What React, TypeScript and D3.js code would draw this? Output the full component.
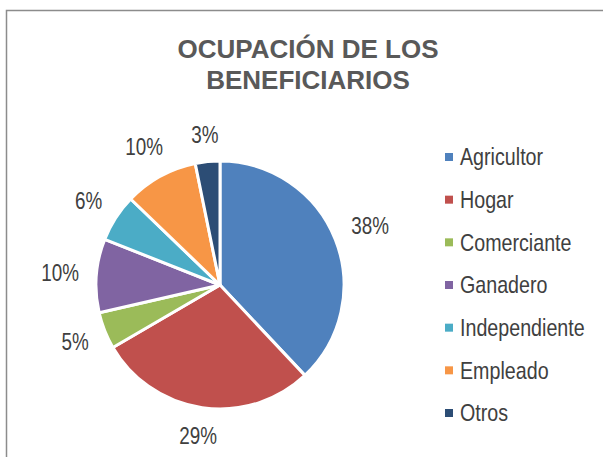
import React from 'react'
import * as d3 from 'd3'

// ocupacion de los beneficiarios (%)
const categories = ['Agricultor', 'Hogar', 'Comerciante', 'Ganadero', 'Independiente', 'Empleado', 'Otros']
const shares = [38, 28.6, 4.8, 9.6, 6.2, 9.6, 3.2]
const colors = ['#4F81BD', '#C0504D', '#9BBB59', '#8064A2', '#4BACC6', '#F79646', '#2C4D75']
const titleLines = ['OCUPACIÓN DE LOS', 'BENEFICIARIOS']

const W = 603
const H = 457
const CX = 220
const CY = 285
const R = 124
const NARROW = 0.82 // fake Arial Narrow by squeezing Liberation Sans

const NarrowText = ({ x, y, size, anchor, children }: any) => (
  <text
    transform={`translate(${x}, ${y}) scale(${NARROW}, 1)`}
    fontFamily="'Liberation Sans', Arial, sans-serif"
    fontSize={size}
    fill="#404040"
    textAnchor={anchor}
    dy="0.35em"
  >
    {children}
  </text>
)

export default function App() {
  const pie = d3.pie<number>().sort(null).value(d => d)
  const arcs = pie(shares)
  const arc = d3.arc<d3.PieArcDatum<number>>().innerRadius(0).outerRadius(R)

  const legendY = d3.scalePoint<string>().domain(categories).range([157, 413])

  const labelSize = 23
  // labels sit just outside the slice, like excel's "outside end"
  const labels = arcs.map(a => {
    const mid = (a.startAngle + a.endAngle) / 2
    const dx = Math.sin(mid)
    const dy = -Math.cos(mid)
    const text = `${Math.round(a.data)}%`
    const w = text.length * labelSize * 0.66 * NARROW
    const h = labelSize * 0.75
    const off = R + 17 + (w / 2) * Math.abs(dx) + (h / 2) * Math.abs(dy)
    return { x: CX + dx * off, y: CY + dy * off, text }
  })

  return (
    <svg width={W} height={H} style={{ position: 'absolute', left: 0, top: 0, background: '#fff' }}>
      {/* chart frame, runs past the right and bottom edges */}
      <rect x={6.5} y={10.5} width={W + 20} height={H + 20} fill="#fff" stroke="#8c8c8c" strokeWidth={1.5} />

      {titleLines.map((t, i) => (
        <text
          key={t}
          x={308}
          y={58 + i * 31}
          textAnchor="middle"
          fontFamily="'Liberation Sans', Arial, sans-serif"
          fontWeight="bold"
          fontSize={26}
          fill="#595959"
        >
          {t}
        </text>
      ))}

      <g transform={`translate(${CX}, ${CY})`}>
        {arcs.map((a, i) => (
          <path key={categories[i]} d={arc(a) || ''} fill={colors[i]} stroke="#fff" strokeWidth={3} strokeLinejoin="round" />
        ))}
      </g>

      {labels.map((l, i) => (
        <NarrowText key={categories[i]} x={l.x} y={l.y} size={labelSize} anchor="middle">
          {l.text}
        </NarrowText>
      ))}

      {categories.map((c, i) => (
        <g key={c}>
          <rect x={445} y={legendY(c)! - 4} width={8} height={8} fill={colors[i]} />
          <NarrowText x={460} y={legendY(c)!} size={24} anchor="start">
            {c}
          </NarrowText>
        </g>
      ))}
    </svg>
  )
}
